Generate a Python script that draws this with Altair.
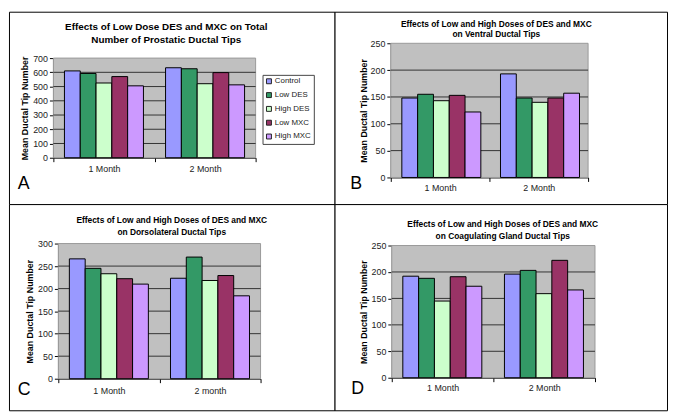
import altair as alt
import pandas as pd

FONT = "Liberation Sans"

groups = ["Control", "Low DES", "High DES", "Low MXC", "High MXC"]
colors = ["#9999FF", "#339966", "#CCFFCC", "#993366", "#CC99FF"]

a_months = ["1 Month", "2 Month"]
a_month1 = [610, 592, 525, 570, 505]
a_month2 = [632, 625, 520, 598, 512]
a_ticks = [0, 100, 200, 300, 400, 500, 600, 700]
a_title = "Effects of Low Dose DES and MXC on Total\nNumber of Prostatic Ductal Tips"

b_months = ["1 Month", "2 Month"]
b_month1 = [148, 155, 143, 153, 122]
b_month2 = [193, 148, 140, 148, 157]
b_ticks = [0, 50, 100, 150, 200, 250]
b_title = "Effects of Low and High Doses of DES and MXC\non Ventral Ductal Tips"

c_months = ["1 Month", "2 month"]
c_month1 = [266, 245, 233, 222, 210]
c_month2 = [223, 270, 218, 229, 184]
c_ticks = [0, 50, 100, 150, 200, 250, 300]
c_title = "Effects of Low and High Doses of DES and MXC\non Dorsolateral Ductal Tips"

d_months = ["1 Month", "2 Month"]
d_month1 = [192, 188, 145, 191, 173]
d_month2 = [196, 203, 159, 222, 166]
d_ticks = [0, 50, 100, 150, 200, 250]
d_title = "Effects of Low and High Doses of DES and MXC\non Coagulating Gland Ductal Tips"

legend = alt.Legend(orient="none", legendX=257, legendY=64, title=None,
                    symbolType="square", symbolSize=25, symbolStrokeColor="#222",
                    symbolStrokeWidth=1, labelFont=FONT, labelFontSize=8,
                    labelColor="#222", fillColor="white", strokeColor="#444",
                    padding=2.5, rowPadding=4, labelOffset=2)


def panel(months, v1, v2, ticks, title, letter, g):
    df = pd.DataFrame({
        "month": [months[0]] * len(groups) + [months[1]] * len(groups),
        "group": groups * 2,
        "value": v1 + v2,
    })
    W, H = g["size"]
    px1, py1, px2, py2 = g["plot"]
    yscale = alt.Scale(domain=[0, ticks[-1]], nice=False, range=[py2, py1])
    yaxis = alt.Axis(values=ticks, grid=False, offset=-px1,
                     domainColor="black", tickColor="black", tickSize=4,
                     labelFontSize=9, labelFont=FONT, labelColor="#222",
                     labelPadding=2,
                     title="Mean Ductal Tip Number", titleFont=FONT,
                     titleFontSize=9, titleFontWeight="bold", titleColor="black",
                     titleX=g["tx"], titleY=(py1 + py2) / 2, titleAngle=270,
                     titleBaseline="middle", titleAlign="center")

    one = pd.DataFrame({"k": [0]})
    back = alt.Chart(one).mark_rect(fill="#C0C0C0", stroke="#999999",
                                    strokeWidth=1).encode(
        x=alt.value(px1), x2=alt.value(px2),
        y=alt.Y("lo:Q", scale=yscale, axis=yaxis), y2="hi:Q"
    ).transform_calculate(lo=str(ticks[0]), hi=str(ticks[-1]))

    grid = alt.Chart(pd.DataFrame({"value": ticks[1:-1]})).mark_rule(
        color="#333333", strokeWidth=1).encode(
        x=alt.value(px1), x2=alt.value(px2),
        y=alt.Y("value:Q", scale=yscale, axis=yaxis))

    bars = alt.Chart(df).mark_bar(stroke="black", strokeWidth=1).encode(
        x=alt.X("month:N", sort=months, title=None,
                scale=alt.Scale(paddingInner=0, paddingOuter=0, range=[px1, px2]),
                axis=alt.Axis(labelAngle=0, tickBand="extent", domainColor="black",
                              tickColor="black", tickSize=4, labelFontSize=9,
                              labelFont=FONT, labelColor="#222",
                              labelPadding=g["lp"], grid=False,
                              offset=-(H - py2))),
        xOffset=alt.XOffset("group:N", sort=groups,
                            scale=alt.Scale(paddingInner=0, paddingOuter=0.7)),
        y=alt.Y("value:Q", scale=yscale, axis=yaxis),
        color=alt.Color("group:N", sort=groups,
                        scale=alt.Scale(domain=groups, range=colors), legend=legend),
    )
    ttl = alt.Chart(pd.DataFrame({"t": [title]})).mark_text(
        font=FONT, fontWeight="bold", fontSize=g["tfs"], lineBreak="\n",
        lineHeight=g["tlh"], align="center", baseline="middle", color="black").encode(
        text="t:N", x=alt.value(g["tcx"]), y=alt.value(g["tcy"]))
    let = alt.Chart(pd.DataFrame({"t": [letter]})).mark_text(
        font=FONT, fontSize=18, align="left", baseline="middle", color="black").encode(
        text="t:N", x=alt.value(g["lx"]), y=alt.value(g["ly"]))
    return alt.layer(back, grid, bars, ttl, let).properties(width=W, height=H)


gA = dict(size=(330, 195), plot=(45, 47, 250, 148), tx=-29, lp=3,
          tfs=10, tlh=13, tcx=159.5, tcy=15.5, lx=9, ly=175)
gB = dict(size=(337, 195), plot=(57, 32, 257, 168), tx=-28, lp=2.5,
          tfs=8.5, tlh=11, tcx=164, tcy=12, lx=16, ly=175)
gC = dict(size=(330, 209), plot=(50, 40, 255, 177), tx=-29, lp=3.5,
          tfs=8.5, tlh=12, tcx=165, tcy=16, lx=9, ly=189)
gD = dict(size=(337, 209), plot=(58, 42, 264, 176), tx=-29, lp=1.5,
          tfs=8.5, tlh=11.5, tcx=170.5, tcy=20.5, lx=17, ly=188)

pA = panel(a_months, a_month1, a_month2, a_ticks, a_title, "A", gA)
pB = panel(b_months, b_month1, b_month2, b_ticks, b_title, "B", gB)
pC = panel(c_months, c_month1, c_month2, c_ticks, c_title, "C", gC)
pD = panel(d_months, d_month1, d_month2, d_ticks, d_title, "D", gD)

chart = alt.concat(pA, pB, pC, pD, columns=2, spacing=0, bounds="flush",
                   align="each").properties(
    padding=0).configure(font=FONT).configure_view(
    fill="white", stroke="black", strokeWidth=1)

chart.save("out.html", embed_options={"renderer": "svg", "actions": False})
